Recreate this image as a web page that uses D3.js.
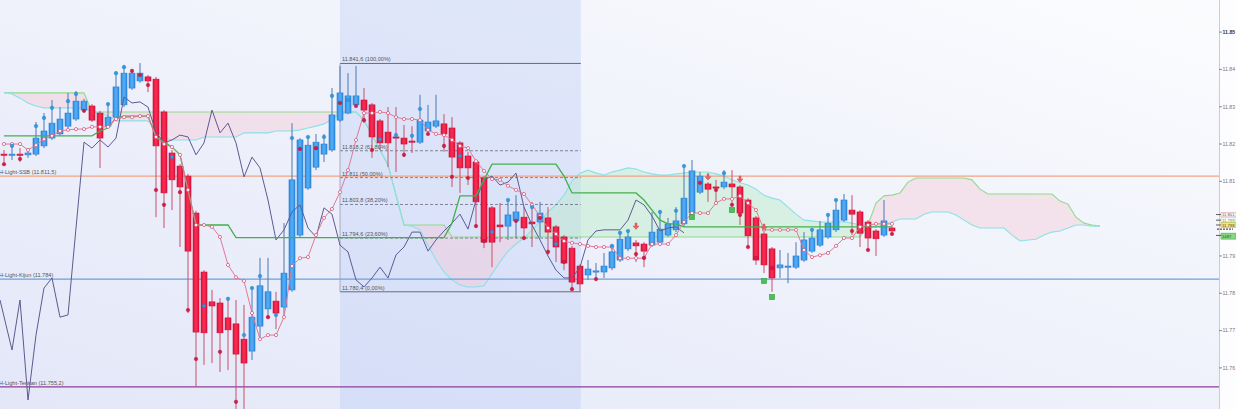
<!DOCTYPE html>
<html><head><meta charset="utf-8">
<script src="https://cdn.jsdelivr.net/npm/d3@7"></script>
<style>html,body{margin:0;padding:0;overflow:hidden;background:#fff}svg{display:block}</style>
</head><body>
<svg id="chart" width="1236" height="409"></svg>
<script>
const opens=[11.8173,11.8171,11.8173,11.8171,11.8173,11.8195,11.8216,11.8227,11.8248,11.8267,
11.8291,11.8302,11.8283,11.8248,11.8272,11.8305,11.8350,11.8369,11.8380,11.8374,
11.8286,11.8176,11.8141,11.8114,11.8015,11.7857,11.7777,11.7774,11.7734,11.7718,
11.7677,11.7645,11.7712,11.7758,11.7779,11.7763,11.7809,11.7956,11.8082,11.8138,
11.8173,11.8184,11.8264,11.8283,11.8305,11.8318,11.8305,11.8262,11.8232,11.8219,
11.8216,11.8208,11.8205,11.8235,11.8248,11.8254,11.8243,11.8203,11.8168,11.8152,
11.8109,11.8029,11.7983,11.7980,11.7994,11.8004,11.7991,11.7991,11.8002,11.7978,
11.7951,11.7921,11.7873,11.7849,11.7857,11.7857,11.7868,11.7889,11.7919,11.7935,
11.7932,11.7929,11.7937,11.7956,11.7970,11.7986,11.8015,11.8071,11.8093,11.8085,
11.8085,11.8093,11.8085,11.8050,11.8002,11.7959,11.7919,11.7868,11.7870,11.7870,
11.7889,11.7913,11.7929,11.7951,11.7970,11.7996,11.8023,11.8018,11.7991,11.7967,
11.7956,11.7975];
const highs=[11.8184,11.8195,11.8189,11.8189,11.8259,11.8283,11.8318,11.8299,11.8337,11.8342,
11.8321,11.8307,11.8289,11.8307,11.8390,11.8412,11.8398,11.8417,11.8385,11.8380,
11.8291,11.8184,11.8146,11.8120,11.8021,11.7862,11.7809,11.7787,11.7790,11.7782,
11.7769,11.7817,11.7895,11.7895,11.7804,11.7988,11.8256,11.8216,11.8219,11.8227,
11.8227,11.8350,11.8409,11.8390,11.8409,11.8350,11.8310,11.8267,11.8299,11.8299,
11.8251,11.8248,11.8332,11.8305,11.8332,11.8280,11.8272,11.8208,11.8179,11.8157,
11.8114,11.8034,11.8042,11.8050,11.8063,11.8031,11.8045,11.8045,11.8031,11.7983,
11.7956,11.7927,11.7878,11.7889,11.7881,11.7908,11.7929,11.7961,11.7970,11.7943,
11.7937,11.8018,11.8023,11.8002,11.8031,11.8138,11.8157,11.8125,11.8098,11.8104,
11.8130,11.8130,11.8090,11.8055,11.8007,11.7964,11.7924,11.7916,11.7908,11.7937,
11.7964,11.7970,11.7994,11.8010,11.8053,11.8066,11.8063,11.8023,11.7996,11.7972,
11.8050,11.7980];
const lows=[11.8149,11.8157,11.8152,11.8163,11.8168,11.8189,11.8211,11.8222,11.8243,11.8262,
11.8286,11.8259,11.8136,11.8243,11.8267,11.8299,11.8345,11.8364,11.8339,11.8004,
11.7975,11.8023,11.7924,11.7747,11.7549,11.7608,11.7613,11.7589,11.7594,11.7490,
11.7490,11.7621,11.7675,11.7736,11.7704,11.7736,11.7804,11.7951,11.8077,11.8130,
11.8152,11.8179,11.8259,11.8280,11.8299,11.8256,11.8163,11.8184,11.8138,11.8125,
11.8165,11.8176,11.8200,11.8230,11.8243,11.8179,11.8085,11.8069,11.8090,11.7975,
11.7921,11.7870,11.7937,11.7943,11.7948,11.7943,11.7924,11.7951,11.7903,11.7884,
11.7862,11.7809,11.7804,11.7836,11.7841,11.7841,11.7862,11.7884,11.7913,11.7884,
11.7870,11.7924,11.7932,11.7951,11.7964,11.7980,11.8010,11.8066,11.8045,11.8045,
11.8079,11.8042,11.7983,11.7924,11.7876,11.7854,11.7804,11.7841,11.7827,11.7865,
11.7884,11.7908,11.7924,11.7946,11.7964,11.7991,11.7956,11.7924,11.7916,11.7900,
11.7951,11.7956];
const closes=[11.8171,11.8173,11.8171,11.8176,11.8216,11.8235,11.8256,11.8267,11.8283,11.8315,
11.8315,11.8264,11.8216,11.8272,11.8353,11.8390,11.8390,11.8390,11.8369,11.8195,
11.8069,11.8104,11.8085,11.7913,11.7696,11.7694,11.7766,11.7694,11.7702,11.7637,
11.7613,11.7736,11.7820,11.7804,11.7747,11.7854,11.8104,11.8211,11.8197,11.8205,
11.8200,11.8278,11.8337,11.8329,11.8329,11.8291,11.8219,11.8203,11.8203,11.8216,
11.8200,11.8205,11.8264,11.8259,11.8262,11.8227,11.8165,11.8136,11.8136,11.8045,
11.7937,11.7937,11.7978,11.8010,11.8018,11.7975,11.7986,11.8015,11.7964,11.7924,
11.7881,11.7830,11.7825,11.7865,11.7860,11.7873,11.7911,11.7945,11.7951,11.7927,
11.7913,11.7964,11.7972,11.7986,11.7994,11.8055,11.8128,11.8114,11.8079,11.8082,
11.8098,11.8085,11.8015,11.7954,11.7889,11.7876,11.7841,11.7876,11.7873,11.7900,
11.7943,11.7948,11.7970,11.7988,11.8023,11.8050,11.8012,11.7961,11.7948,11.7946,
11.7994,11.7967];
const tenkan=[11.8200,11.8200,11.8200,11.8184,11.8197,11.8213,11.8222,11.8235,11.8238,11.8240,
11.8240,11.8246,11.8246,11.8246,11.8267,11.8272,11.8272,11.8275,11.8275,11.8219,
11.8200,11.8192,11.8171,11.8077,11.7983,11.7983,11.7978,11.7951,11.7876,11.7843,
11.7833,11.7747,11.7677,11.7688,11.7688,11.7736,11.7873,11.7894,11.7897,11.7956,
11.8002,11.8026,11.8071,11.8130,11.8211,11.8283,11.8283,11.8286,11.8283,11.8272,
11.8267,11.8267,11.8264,11.8238,11.8227,11.8224,11.8211,11.8195,11.8189,11.8154,
11.8128,11.8106,11.8104,11.8088,11.8077,11.8066,11.8037,11.8007,11.7975,11.7959,
11.7940,11.7935,11.7932,11.7927,11.7924,11.7924,11.7924,11.7894,11.7894,11.7894,
11.7894,11.7932,11.7932,11.7932,11.7956,11.7991,11.8015,11.8015,11.8015,11.8042,
11.8053,11.8053,11.8061,11.8042,11.8023,11.7970,11.7970,11.7970,11.7970,11.7970,
11.7916,11.7897,11.7902,11.7908,11.7927,11.7948,11.7948,11.7978,11.7983,11.7986,
11.7986,11.7986];
const kijun=[11.8222,11.8222,11.8222,11.8222,11.8222,11.8222,11.8222,11.8222,11.8222,11.8222,
11.8222,11.8222,11.8235,11.8243,11.8270,11.8275,11.8275,11.8275,11.8275,11.8219,
11.8205,11.8192,11.8171,11.8077,11.7983,11.7983,11.7983,11.7983,11.7983,11.7949,
11.7949,11.7949,11.7949,11.7949,11.7949,11.7949,11.7949,11.7949,11.7949,11.7949,
11.7949,11.7949,11.7949,11.7949,11.7949,11.7949,11.7949,11.7949,11.7949,11.7949,
11.7949,11.7949,11.7949,11.7949,11.7949,11.7949,11.7988,11.8061,11.8061,11.8061,
11.8104,11.8146,11.8146,11.8146,11.8146,11.8146,11.8146,11.8146,11.8146,11.8146,
11.8114,11.8069,11.8069,11.8069,11.8069,11.8069,11.8069,11.8069,11.8069,11.8069,
11.8050,11.8023,11.7996,11.7986,11.7986,11.7978,11.7978,11.7978,11.7978,11.7978,
11.7978,11.7978,11.7978,11.7978,11.7978,11.7978,11.7978,11.7978,11.7978,11.7978,
11.7978,11.7978,11.7978,11.7978,11.7978,11.7978,11.7978,11.7978,11.7978,11.7978,
11.7978,11.7978];
const senkouA=[11.8339,11.8334,11.8323,11.8310,11.8302,11.8297,11.8297,11.8297,11.8297,11.8297,
11.8297,11.8286,11.8283,11.8275,11.8262,11.8262,11.8262,11.8262,11.8262,11.8238,
11.8216,11.8211,11.8211,11.8211,11.8211,11.8219,11.8219,11.8219,11.8219,11.8219,
11.8230,11.8230,11.8230,11.8230,11.8235,11.8235,11.8235,11.8238,11.8243,11.8248,
11.8254,11.8267,11.8280,11.8286,11.8286,11.8264,11.8224,11.8184,11.8144,11.8063,
11.7983,11.7980,11.7970,11.7929,11.7889,11.7857,11.7836,11.7822,11.7817,11.7817,
11.7820,11.7852,11.7884,11.7913,11.7932,11.7948,11.7970,11.7991,11.8018,11.8037,
11.8063,11.8101,11.8122,11.8130,11.8122,11.8117,11.8125,11.8130,11.8136,11.8133,
11.8125,11.8120,11.8117,11.8117,11.8120,11.8122,11.8125,11.8125,11.8125,11.8120,
11.8114,11.8104,11.8096,11.8090,11.8079,11.8063,11.8055,11.8050,11.8031,11.8012,
11.7996,11.7994,11.7991,11.7991,11.7991,11.7991,11.7988,11.7983,11.7978,11.7978,
11.7983,11.7991,11.7999,11.7999,11.7999,11.8012,11.8018,11.8018,11.8018,11.8010,
11.7996,11.7983,11.7975,11.7975,11.7975,11.7975,11.7956,11.7940,11.7943,11.7945,
11.7956,11.7964,11.7967,11.7975,11.7983,11.7983,11.7980,11.7980];
const senkouB=[11.8337,11.8337,11.8337,11.8337,11.8337,11.8337,11.8337,11.8337,11.8337,11.8337,
11.8337,11.8286,11.8286,11.8286,11.8286,11.8286,11.8286,11.8286,11.8286,11.8286,
11.8286,11.8286,11.8286,11.8286,11.8286,11.8286,11.8286,11.8286,11.8286,11.8286,
11.8286,11.8286,11.8286,11.8286,11.8286,11.8286,11.8286,11.8286,11.8286,11.8286,
11.8286,11.8286,11.8286,11.8286,11.8286,11.8264,11.8224,11.8184,11.8144,11.8063,
11.7983,11.7983,11.7983,11.7983,11.7983,11.7983,11.7951,11.7951,11.7951,11.7951,
11.7951,11.7951,11.7951,11.7951,11.7951,11.7951,11.7951,11.7951,11.7951,11.7951,
11.7951,11.7951,11.7951,11.7951,11.7951,11.7951,11.7951,11.7951,11.7951,11.7951,
11.7951,11.7951,11.7951,11.7951,11.7951,11.7951,11.7951,11.7951,11.7951,11.7951,
11.7951,11.7951,11.7951,11.7951,11.7951,11.7951,11.7951,11.7951,11.7951,11.7951,
11.7951,11.7951,11.7951,11.7951,11.7951,11.7951,11.7951,11.7951,11.7983,11.8042,
11.8061,11.8063,11.8069,11.8098,11.8109,11.8109,11.8109,11.8109,11.8109,11.8109,
11.8109,11.8104,11.8079,11.8066,11.8066,11.8066,11.8066,11.8066,11.8066,11.8066,
11.8066,11.8066,11.8047,11.8039,11.8004,11.7988,11.7983,11.7980];
const chikou=[11.7782,11.7648,11.7782,11.7514,11.7688,11.7814,11.7841,11.7736,11.7742,11.7975,
11.8205,11.8189,11.8211,11.8192,11.8216,11.8326,11.8310,11.8313,11.8299,11.8232,
11.8203,11.8211,11.8224,11.8219,11.8171,11.8203,11.8291,11.8230,11.8256,11.8203,
11.8112,11.8165,11.8136,11.8050,11.7943,11.7970,11.8018,11.8037,11.7975,11.7951,
11.8029,11.8012,11.7929,11.7911,11.7836,11.7817,11.7841,11.7870,11.7841,11.7903,
11.7924,11.7964,11.7964,11.7913,11.7943,11.7967,11.7988,11.8012,11.7972,11.8050,
11.8104,11.8114,11.8090,11.8098,11.8122,11.8031,11.7983,11.7943,11.7900,11.7862,
11.7841,11.7841,11.7870,11.7943,11.7967,11.7970,11.7970,11.7970,11.7996,11.8050,
11.8037,11.8007,11.7967,11.7975,11.7978,11.7962];
const dotIndex=[0,1,2,4,5,6,8,9,10,13,14,15,16,17,18,19,20,21,22,23,24,25,27,28,29,30,31,32,33,34,
36,37,38,39,40,41,42,43,44,45,46,47,49,50,51,52,53,55,56,57,58,59,60,61,63,64,65,66,67,68,
69,70,71,74,76,77,78,79,80,82,84,85,87,89,90,91,92,93,94,96,101,103,104,106,108,111];
const dotPrice=[11.8146,11.8195,11.8160,11.8248,11.8270,11.8297,11.8315,11.8334,11.8289,11.8307,
11.8390,11.8406,11.8396,11.8385,11.8358,11.8077,11.8037,11.8165,11.8071,11.7755,
11.7624,11.7766,11.7643,11.7785,11.7509,11.7688,11.7814,11.7846,11.7736,11.7742,
11.8216,11.8187,11.8219,11.8189,11.8219,11.8329,11.8310,11.8318,11.8302,11.8264,
11.8184,11.8213,11.8224,11.8171,11.8222,11.8294,11.8227,11.8195,11.8112,11.8168,
11.8109,11.7980,11.7940,11.7964,11.8050,11.7994,11.7948,11.8031,11.8002,11.7911,
11.7932,11.7884,11.7811,11.7838,11.7927,11.7962,11.7967,11.7905,11.7895,11.8018,
11.8021,11.8141,11.8096,11.8077,11.8122,11.8037,11.8010,11.7924,11.7895,11.7868,
11.7970,11.8010,11.8050,11.7967,11.7916,11.7959];
const dotKind=("rbrbbbbbrb"+"bbrrrrrbrr"+"rbrbrbbbrb"+"brbrbbrbrr"+"rbbrbbrrrb"+"rrrbbrrbrr"+"brrrbbbrrb"+"bbrrbrrrrr"+"bbbrrr").split("");
const arrowIndex=[79,88,92,95];
const arrowPrice=[11.7975,11.8107,11.8101,11.7972];
const squareIndex=[86,91,95,96];
const squarePrice=[11.8004,11.8023,11.7833,11.7790];
const hLineNames=["H-Light-SSB (11.811,5)","H-Light-Kijun (11.784)","H-Light-Tenkan (11.755,2)"];
const hLineValues=[11.8114,11.7838,11.7549];
const hLineColors=["#f2a383","#6e9fdc","#8e3c9c"];
const fibValues=[11.8416,11.8182,11.8110,11.8038,11.7948,11.7804];
const fibLabels=["11.841,6 (100,00%)","11.818,2 (61,80%)","11.811 (50,00%)","11.803,8 (38,20%)","11.794,6 (23,60%)","11.780,4 (0,00%)"];
const fibRange=[42,72.1];
const yTicks=[11.85,11.84,11.83,11.82,11.81,11.79,11.78,11.77,11.76];
const yTickLabels=["11.85","11.84","11.83","11.82","11.81","11.79","11.78","11.77","11.76"];
const tagValues=[11.8011,11.7996,11.7983,11.7972,11.7955];
const tagTexts=["11.801","11.799","11.798","","1487"];

const W=1236,H=409,axisX=1219;
const svg=d3.select("#chart");
const x=d3.scaleLinear().domain([0,152]).range([4,1220]);
const y=d3.scaleLinear().domain([11.76,11.85]).range([367.9,32.1]);
const defs=svg.append("defs");
const bg=defs.append("linearGradient").attr("id","bg").attr("x1",1).attr("y1",0).attr("x2",0).attr("y2",1);
bg.append("stop").attr("offset",0).attr("stop-color","#fbfcfe");
bg.append("stop").attr("offset",1).attr("stop-color","#e3e7f8");
const gb=defs.append("linearGradient").attr("id","gblue");
gb.append("stop").attr("offset",0).attr("stop-color","#2d8be3");
gb.append("stop").attr("offset",0.5).attr("stop-color","#55b0f6");
gb.append("stop").attr("offset",1).attr("stop-color","#2d8be3");
const gr=defs.append("linearGradient").attr("id","gred");
gr.append("stop").attr("offset",0).attr("stop-color","#de1238");
gr.append("stop").attr("offset",0.5).attr("stop-color","#fb2f55");
gr.append("stop").attr("offset",1).attr("stop-color","#de1238");

svg.append("rect").attr("width",W).attr("height",H).attr("fill","url(#bg)");
svg.append("rect").attr("x",x(fibRange[0])).attr("y",0).attr("width",x(fibRange[1])-x(fibRange[0])).attr("height",H)
  .attr("fill","rgba(190,205,248,0.38)");

const cIdx=d3.range(senkouA.length);
defs.append("clipPath").attr("id","above").append("path")
  .attr("d",d3.area().x(i=>x(i)).y0(0).y1(i=>y(senkouA[i]))(cIdx));
defs.append("clipPath").attr("id","below").append("path")
  .attr("d",d3.area().x(i=>x(i)).y0(i=>y(senkouA[i])).y1(H)(cIdx));
const between=d3.area().x(i=>x(i)).y0(i=>y(senkouA[i])).y1(i=>y(senkouB[i]));
svg.append("path").attr("d",between(cIdx)).attr("fill","rgba(246,200,212,0.42)").attr("clip-path","url(#above)");
svg.append("path").attr("d",between(cIdx)).attr("fill","rgba(175,236,188,0.38)").attr("clip-path","url(#below)");
const ln=arr=>d3.line().x((d,i)=>x(i)).y(d=>y(d))(arr);
svg.append("path").attr("d",ln(senkouB)).attr("fill","none").attr("stroke","#8fdc8c").attr("stroke-width",1.1);
svg.append("path").attr("d",ln(senkouA)).attr("fill","none").attr("stroke","#8ce0e6").attr("stroke-width",1.1);

hLineValues.forEach((v,k)=>{
  svg.append("line").attr("x1",0).attr("x2",axisX).attr("y1",y(v)).attr("y2",y(v))
    .attr("stroke",hLineColors[k]).attr("stroke-width",1.3);
  svg.append("text").attr("x",-1).attr("y",y(v)-2).text(hLineNames[k])
    .attr("font-family","Liberation Sans, Arial, sans-serif").attr("font-size",5.6).attr("fill","#555");
});

fibValues.forEach((v,k)=>{
  const solid=(k===0||k===fibValues.length-1);
  svg.append("line").attr("x1",x(fibRange[0])).attr("x2",x(fibRange[1])).attr("y1",y(v)).attr("y2",y(v))
    .attr("stroke",solid?"#6a6a78":"#77778a").attr("stroke-width",solid?1:0.9)
    .attr("stroke-dasharray",solid?null:"3,2");
  svg.append("text").attr("x",x(fibRange[0])+2).attr("y",y(v)-2).text(fibLabels[k])
    .attr("font-family","Liberation Sans, Arial, sans-serif").attr("font-size",5.6).attr("fill","#555");
});
svg.append("line").attr("x1",x(fibRange[0])).attr("x2",x(fibRange[0])).attr("y1",y(fibValues[0])).attr("y2",y(fibValues[5]))
  .attr("stroke","#9a9aae").attr("stroke-width",0.8);

const cand=d3.range(opens.length);
const up=i=>closes[i]>=opens[i];
svg.append("g").selectAll("line").data(cand).join("line")
  .attr("x1",i=>x(i)).attr("x2",i=>x(i)).attr("y1",i=>y(highs[i])).attr("y2",i=>y(lows[i]))
  .attr("stroke",i=>up(i)?"#4a78b0":"#c65068").attr("stroke-width",1);
svg.append("g").selectAll("rect").data(cand).join("rect")
  .attr("x",i=>x(i)-3).attr("width",6)
  .attr("y",i=>Math.min(y(opens[i]),y(closes[i])))
  .attr("height",i=>Math.max(1.2,Math.abs(y(opens[i])-y(closes[i]))))
  .attr("fill",i=>up(i)?"url(#gblue)":"url(#gred)")
  .attr("stroke",i=>up(i)?"#2a7dd0":"#c8103a").attr("stroke-width",0.6);

svg.append("path").attr("d",d3.line().x((d,i)=>i===0?0:x(i)).y(d=>y(d))(chikou)).attr("fill","none").attr("stroke","#5d5a92").attr("stroke-width",1);
svg.append("path").attr("d",ln(kijun)).attr("fill","none").attr("stroke","#44b04c").attr("stroke-width",1.3);
svg.append("path").attr("d",ln(tenkan)).attr("fill","none").attr("stroke","#e27896").attr("stroke-width",1);
svg.append("g").selectAll("circle").data(tenkan).join("circle")
  .attr("cx",(d,i)=>x(i)).attr("cy",d=>y(d)).attr("r",1.6)
  .attr("fill","#fff").attr("stroke","#d45a7c").attr("stroke-width",0.8);

svg.append("g").selectAll("circle").data(dotIndex).join("circle")
  .attr("cx",i=>x(i)).attr("cy",(d,k)=>y(dotPrice[k])).attr("r",1.8)
  .attr("fill",(d,k)=>dotKind[k]==="b"?"#2e9ae2":"#d61a42")
  .attr("stroke",(d,k)=>dotKind[k]==="b"?"#1f79bd":"#a8102f").attr("stroke-width",0.4);

arrowIndex.forEach((i,k)=>{
  const cx=x(i),cy=y(arrowPrice[k]);
  svg.append("path").attr("d",`M${cx-1},${cy-5}h2v3h2l-3,3.5l-3,-3.5h2z`).attr("fill","#e8646c").attr("stroke","#c9464f").attr("stroke-width",0.4);
});
squareIndex.forEach((i,k)=>{
  const cx=x(i),cy=y(squarePrice[k]);
  svg.append("rect").attr("x",cx-2.5).attr("y",cy-2.5).attr("width",5).attr("height",5)
    .attr("fill","#4cc05a").attr("stroke","#2f9a3c").attr("stroke-width",0.6);
});

svg.append("rect").attr("x",axisX).attr("y",0).attr("width",W-axisX).attr("height",H).attr("fill","#fdfdff");
svg.append("line").attr("x1",axisX+0.5).attr("x2",axisX+0.5).attr("y1",0).attr("y2",H).attr("stroke","#c9cdd9");
yTicks.forEach((v,k)=>{
  svg.append("line").attr("x1",axisX).attr("x2",axisX+3).attr("y1",y(v)).attr("y2",y(v)).attr("stroke","#888");
  svg.append("text").attr("x",axisX+3.5).attr("y",y(v)).attr("dy","0.35em").text(yTickLabels[k])
    .attr("font-family","Liberation Sans, Arial, sans-serif").attr("font-size",5.2)
    .attr("font-weight",k===0?"bold":"normal").attr("fill",k===0?"#333":"#777");
});
const tagFill=["#ffffff","#ffffff","#f2e77a","none","#86d880"];
const tagStroke=["#d99aab","#98d69c","#c8b443","#222","#4caf50"];
const tagColor=["#555","#3a9a44","#444","#222","#1d5a22"];
tagValues.forEach((v,k)=>{
  const yy=y(v);
  if(k===3){svg.append("line").attr("x1",axisX-2).attr("x2",axisX+14).attr("y1",yy).attr("y2",yy).attr("stroke","#222").attr("stroke-dasharray","2,1");return;}
  svg.append("rect").attr("x",axisX+2).attr("y",yy-2.3).attr("width",15).attr("height",k===4?6:4.6)
    .attr("fill",tagFill[k]).attr("stroke",tagStroke[k]).attr("stroke-width",0.6);
  svg.append("line").attr("x1",axisX-3).attr("x2",axisX+2).attr("y1",yy).attr("y2",yy).attr("stroke","#333").attr("stroke-width",0.8);
  svg.append("text").attr("x",axisX+3).attr("y",yy+(k===4?2.2:1.6)).text(tagTexts[k])
    .attr("font-family","Liberation Sans, Arial, sans-serif").attr("font-size",4.2).attr("fill",tagColor[k]);
});
</script>
</body></html>
